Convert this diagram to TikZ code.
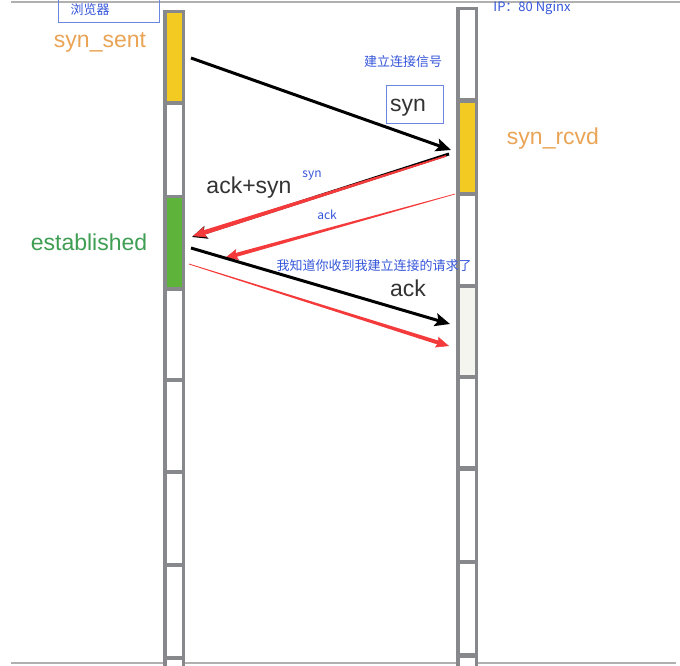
\documentclass[tikz,border=0pt]{standalone}
\usepackage{fontspec}
\setmainfont{Liberation Sans}
\newfontfamily\cjk{Noto Sans CJK SC}
\usetikzlibrary{calc,arrows.meta}
\definecolor{colgray}{HTML}{86888C}
\definecolor{segyellow}{HTML}{F2CA22}
\definecolor{seggreen}{HTML}{5EB33B}
\definecolor{seglight}{HTML}{F5F5F0}
\definecolor{txtorange}{HTML}{EAA456}
\definecolor{txtgreen}{HTML}{3F9E53}
\definecolor{txtblue}{HTML}{3656DA}
\definecolor{boxblue}{HTML}{6A86E0}
\definecolor{arrred}{HTML}{F43A3A}
\definecolor{txtdark}{HTML}{333333}
\definecolor{rulegray}{HTML}{B0B0B0}
\tikzset{
  seg/.style={draw=none, inner sep=0pt, minimum width=15pt},
  bigtxt/.style={inner sep=0pt, font=\fontsize{23}{23}\selectfont},
  smalltxt/.style={inner sep=0pt, text=txtblue, font=\cjk\fontsize{13}{13}\selectfont},
  blackarrow/.style={line width=3pt, black, -{Stealth[length=15pt,width=13pt,inset=3pt]}},
  redhead/.style={line width=0.5pt, arrred, -{Stealth[length=13pt,width=11pt,inset=2pt]}},
}
\newcommand{\taperarrow}[4]{%
  \fill[arrred] ($(#1)!#3!90:(#2)$) -- ($($(#2)!10pt!(#1)$)!#4!-90:(#1)$) -- ($($(#2)!10pt!(#1)$)!#4!90:(#1)$) -- ($(#1)!#3!-90:(#2)$) -- cycle;
  \draw[redhead] ($(#2)!12pt!(#1)$) -- (#2);
}
\begin{document}
\begin{tikzpicture}[x=1pt,y=-1pt]
\useasboundingbox (0,0) rectangle (680,665);
\fill[white] (0,0) rectangle (680,665);
% rules
\draw[rulegray, line width=1.2pt] (11,2) coordinate (tl) -- (680,2) coordinate (tr);
\draw[rulegray, line width=1.2pt] (11,663) coordinate (bl) -- (676,663) coordinate (br);
% left column
\fill[colgray] (163,10) rectangle (185,668);
\node[seg, fill=segyellow, minimum height=88pt] (L1) at (174,57) {};
\node[seg, fill=white, minimum height=90pt] (L2) at (174,150) {};
\node[seg, fill=seggreen, minimum height=89pt] (L3) at (174,242.5) {};
\node[seg, fill=white, minimum height=87pt] (L4) at (174,334.5) {};
\node[seg, fill=white, minimum height=88pt] (L5) at (174,426) {};
\node[seg, fill=white, minimum height=89pt] (L6) at (174,518.5) {};
\node[seg, fill=white, minimum height=89pt] (L7) at (174,611.5) {};
\node[seg, fill=white, minimum height=8pt] (L8) at (174,664) {};
% right column
\fill[colgray] (456,7) rectangle (478,668);
\node[seg, fill=white, minimum height=88pt] (R1) at (467,54) {};
\node[seg, fill=segyellow, minimum height=89pt] (R2) at (467,147.5) {};
\node[seg, fill=white, minimum height=88pt] (R3) at (467,240) {};
\node[seg, fill=seglight, minimum height=87pt] (R4) at (467,331.5) {};
\node[seg, fill=white, minimum height=87pt] (R5) at (467,422.5) {};
\node[seg, fill=white, minimum height=89pt] (R6) at (467,515.5) {};
\node[seg, fill=white, minimum height=89pt] (R7) at (467,608.5) {};
\node[seg, fill=white, minimum height=10pt] (R8) at (467,663) {};
% boxes
\draw[boxblue, line width=0.8pt] (58,-3) rectangle (159,22);
\node[smalltxt] (browser) at (90,10) {浏览器};
\draw[boxblue, line width=0.8pt] (386,85) rectangle (443,123);
\node[bigtxt, text=txtdark] (synbig) at (408,108) {syn};
% labels
\node[bigtxt, text=txtorange] (synsent) at (100,42) {syn\_sent};
\node[bigtxt, text=txtorange] (synrcvd) at (553,139) {syn\_rcvd};
\node[bigtxt, text=txtgreen] (estab) at (89,242) {established};
\node[bigtxt, text=txtdark] (acksyn) at (249,188) {ack+syn};
\node[bigtxt, text=txtdark] (ackbig) at (408,288) {ack};
\node[smalltxt] (ip) at (532,8) {IP：80 Nginx};
\node[smalltxt] (signal) at (403,62) {建立连接信号};
\node[smalltxt, font=\cjk\fontsize{12}{12}\selectfont] (synsmall) at (312,176) {syn};
\node[smalltxt, font=\cjk\fontsize{12}{12}\selectfont] (acksmall) at (327,215) {ack};
\node[smalltxt] (know) at (374,266) {我知道你收到我建立连接的请求了};
% arrow endpoints
\coordinate (a1s) at (191,58);
\coordinate (a1t) at (451,150);
\coordinate (a2s) at (449,154);
\coordinate (a2t) at (192,237);
\coordinate (r1s) at (446,156);
\coordinate (r1t) at (193,236);
\coordinate (r2s) at (455,194);
\coordinate (r2t) at (225,258);
\coordinate (a3s) at (191,248);
\coordinate (a3t) at (450,324);
\coordinate (r3s) at (189,264);
\coordinate (r3t) at (449,346);
% arrows
\draw[blackarrow] (a1s) -- (a1t);
\draw[blackarrow] (a2s) -- (a2t);
\taperarrow{r1s}{r1t}{0.8pt}{2.3pt}
\taperarrow{r2s}{r2t}{0.35pt}{2pt}
\draw[blackarrow] (a3s) -- (a3t);
\taperarrow{r3s}{r3t}{0.4pt}{2pt}
\end{tikzpicture}
\end{document}
